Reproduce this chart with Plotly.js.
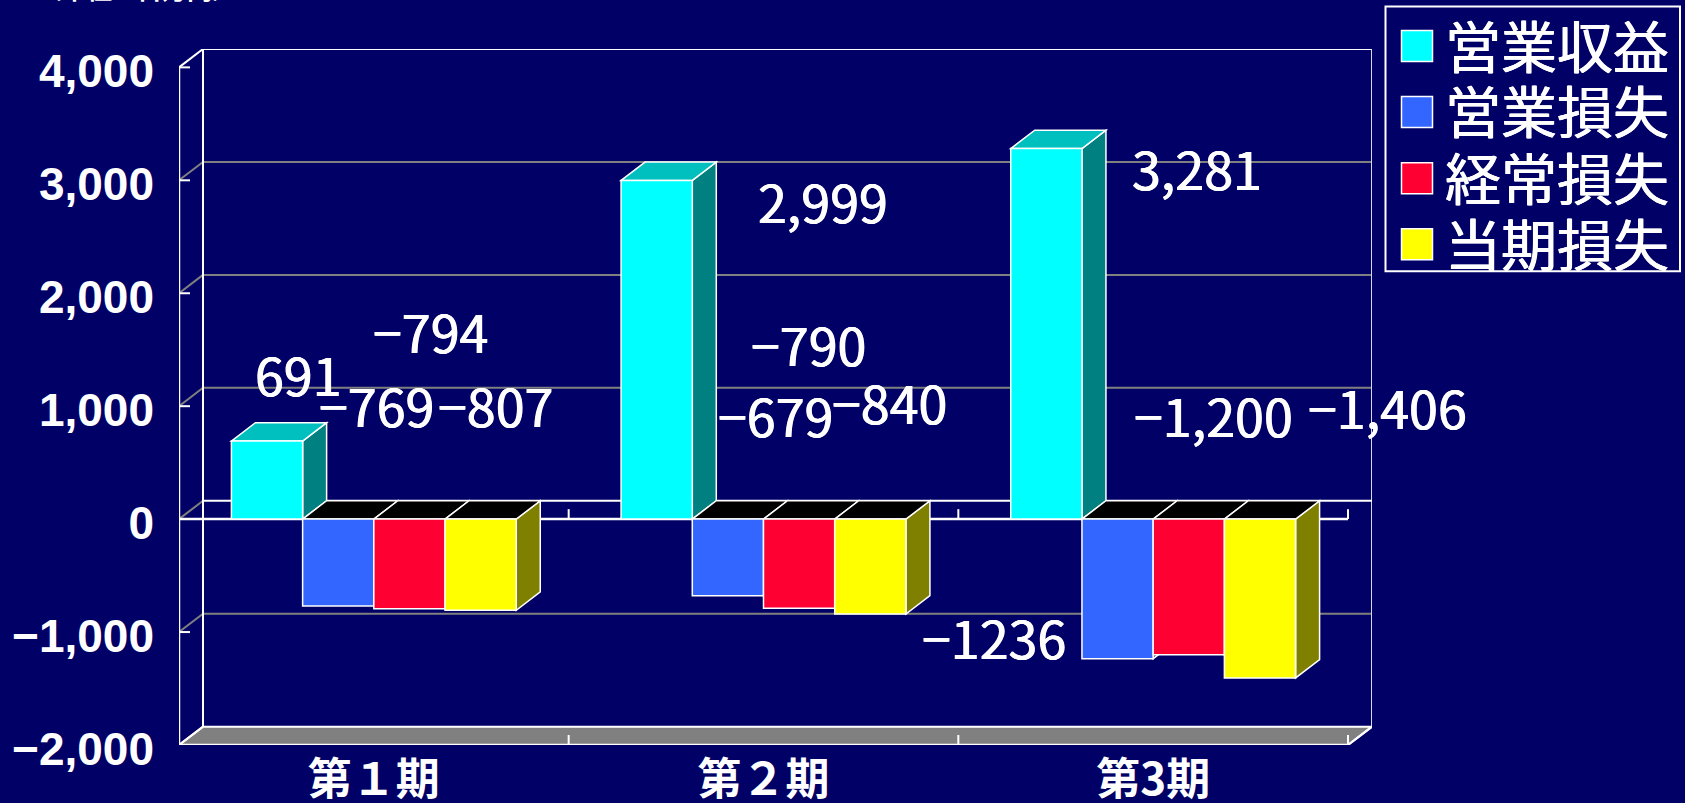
<!DOCTYPE html>
<html lang="ja">
<head>
<meta charset="utf-8">
<script src="https://cdn.plot.ly/plotly-3.0.1.min.js"></script>
<style>html,body{margin:0;padding:0;background:#000066;overflow:hidden}#chart{width:1685px;height:803px}</style>
</head>
<body>
<div id="chart"></div>
<script>
// ---- data ----
const periods = ['第１期', '第２期', '第3期'];
const seriesNames = ['営業収益', '営業損失', '経常損失', '当期損失'];
const operatingRevenue = [691, 2999, 3281];
const operatingLoss = [-769, -679, -1236];
const ordinaryLoss = [-794, -790, -1200];
const netLoss = [-807, -840, -1406];
const yTicks = [-2000, -1000, 0, 1000, 2000, 3000, 4000];
const revenueLabels = ['691', '2,999', '3,281'];
const operatingLossLabels = ['−769', '−679', '−1236'];
const ordinaryLossLabels = ['−794', '−790', '−1,200'];
const netLossLabels = ['−807', '−840', '−1,406'];
const unitNote = '（単位：百万円）';

// ---- styling / layout (pixels on the 1685x803 page) ----
const W = 1685, H = 803;
const NAVY = '#000066', WHITE = '#ffffff', GRAY = '#808080';
const faceColors = ['#00ffff', '#3366ff', '#ff0033', '#ffff00'];
const sideColors = ['#008080', '#1a3380', '#80001a', '#808000'];
const topColors  = ['#00bfbf', '#000000', '#000000', '#000000'];
const FONT = '"Noto Sans CJK JP", "Liberation Sans", sans-serif';
const TICKFONT = '"Liberation Sans", sans-serif';
const plotL = 179, plotR = 1372, plotT = 48.5, plotB = 745.5;
const depthPxX = 24, depthPxY = 18.4;
const pxPerCat = 389.7, pxPer1000 = 113.1;
const depthX = depthPxX / pxPerCat;
const depthY = depthPxY / pxPer1000 * 1000;
const yMin = -2000, yMax = 4000, xMin = -0.5, xMax = 2.5;
const groupWidth = 0.731;
const barW = groupWidth / 4;
const allSeries = [operatingRevenue, operatingLoss, ordinaryLoss, netLoss];
const allLabels = [revenueLabels, operatingLossLabels, ordinaryLossLabels, netLossLabels];

// label centres in page pixels, same order as allLabels
const labelPx = [
  [[298, 373], [823, 200], [1197, 167]],
  [[376, 405], [775, 415], [994, 637]],
  [[430, 330], [809, 343], [1213, 415]],
  [[495, 405], [890, 402], [1387, 407]]
];
// paper coordinates relative to the plot area
const paperX = v => (v - plotL) / (plotR - plotL);
const paperY = v => (plotB - v) / (plotB - plotT);

const shapes = [];
function poly(pts, fill, lineColor, lineWidth) {
  shapes.push({
    type: 'path', xref: 'x', yref: 'y', layer: 'below',
    path: 'M' + pts.map(p => p[0] + ' ' + p[1]).join(' L') + ' Z',
    fillcolor: fill,
    line: {color: lineColor, width: lineWidth}
  });
}
function seg(x0, y0, x1, y1, color, width) {
  shapes.push({type: 'line', xref: 'x', yref: 'y', layer: 'below', x0, y0, x1, y1,
    line: {color, width}});
}
// floor
poly([[xMin, yMin], [xMin + depthX, yMin + depthY], [xMax + depthX, yMin + depthY], [xMax, yMin]], GRAY, WHITE, 2);
// gridlines on back and side wall
yTicks.forEach(t => {
  if (t !== yMin && t !== yMax && t !== 0) {
    seg(xMin + depthX, t + depthY, xMax + depthX, t + depthY, GRAY, 2);
    seg(xMin, t, xMin + depthX, t + depthY, GRAY, 2);
  }
});
seg(xMin, 0, xMin + depthX, depthY, GRAY, 2);
seg(xMin + depthX, yMax + depthY, xMax + depthX, yMax + depthY, WHITE, 2);
seg(xMin, yMax, xMin + depthX, yMax + depthY, WHITE, 2);
seg(xMin, yMin, xMin + depthX, yMin + depthY, WHITE, 2);
seg(xMin + depthX, yMin + depthY, xMin + depthX, yMax + depthY, WHITE, 2);
seg(xMax + depthX, yMin + depthY, xMax + depthX, yMax + depthY, '#d8d8e8', 2);
seg(xMax, yMin, xMax + depthX, yMin + depthY, WHITE, 2);
seg(xMin, yMin, xMin, yMax, WHITE, 2.5);
// y ticks pointing into the plot
const tickDx = 11 / pxPerCat, tickDy = 10 / pxPer1000 * 1000;
yTicks.forEach(t => { if (t !== yMin && t !== 0) seg(xMin, t, xMin + tickDx, t, WHITE, 2); });
// zero plane
seg(xMin + depthX, depthY, xMax + depthX, depthY, WHITE, 2);
seg(xMin, 0, xMax, 0, WHITE, 2.5);
seg(xMin, yMin, xMax, yMin, WHITE, 2.5);
// x ticks on zero plane and floor
[0.5, 1.5, 2.5].forEach(c => {
  seg(c, 0, c, tickDy, WHITE, 2);
  seg(c, yMin, c, yMin + tickDy, WHITE, 2);
});
// bar side and top faces
periods.forEach((p, c) => {
  allSeries.forEach((vals, s) => {
    const v = vals[c];
    const l = c - groupWidth / 2 + s * barW, r = l + barW;
    const t = Math.max(v, 0);
    poly([[r, 0], [r + depthX, depthY], [r + depthX, v + depthY], [r, v]], sideColors[s], WHITE, 1.5);
    poly([[l, t], [l + depthX, t + depthY], [r + depthX, t + depthY], [r, t]], topColors[s], WHITE, 1.5);
  });
});

// legend box and swatches
const legendBox = {l: 1385.5, r: 1680, t: 6, b: 271};
const legendRows = [45.5, 111.5, 178, 244];
shapes.push({type: 'rect', xref: 'paper', yref: 'paper', layer: 'above',
  x0: paperX(legendBox.l), x1: paperX(legendBox.r), y0: paperY(legendBox.b), y1: paperY(legendBox.t),
  fillcolor: NAVY, line: {color: WHITE, width: 2}});
legendRows.forEach((y, i) => {
  shapes.push({type: 'rect', xref: 'paper', yref: 'paper', layer: 'above',
    x0: paperX(1401.5), x1: paperX(1432.5), y0: paperY(y + 15.5), y1: paperY(y - 15.5),
    fillcolor: faceColors[i], line: {color: WHITE, width: 1.5}});
});

const THICK = '0.5px 0 0 #fff, -0.5px 0 0 #fff';
const annotations = [];
allLabels.forEach((row, s) => row.forEach((txt, c) => {
  annotations.push({
    xref: 'paper', yref: 'paper', x: paperX(labelPx[s][c][0]), y: paperY(labelPx[s][c][1]),
    xanchor: 'center', yanchor: 'middle', showarrow: false, text: txt,
    font: {family: FONT, size: 52, color: WHITE, shadow: THICK}
  });
}));
seriesNames.forEach((name, i) => {
  annotations.push({
    xref: 'paper', yref: 'paper', x: paperX(1443), y: paperY(legendRows[i] - 3),
    xanchor: 'left', yanchor: 'middle', showarrow: false, text: name,
    font: {family: FONT, size: 56, color: WHITE, shadow: THICK}
  });
});
annotations.push({
  xref: 'paper', yref: 'paper', x: paperX(36), y: paperY(6),
  xanchor: 'left', yanchor: 'bottom', showarrow: false, text: unitNote, borderpad: 0,
  font: {family: FONT, size: 25, color: WHITE, weight: 700}
});

const traces = allSeries.map((vals, s) => ({
  type: 'bar', x: periods, y: vals, name: seriesNames[s],
  marker: {color: faceColors[s], line: {color: WHITE, width: 1.5}},
  hoverinfo: 'x+y+name'
}));

const layout = {
  width: W, height: H,
  paper_bgcolor: NAVY, plot_bgcolor: 'rgba(0,0,0,0)',
  margin: {l: plotL, r: W - plotR, t: plotT, b: H - plotB, pad: 0},
  barmode: 'group', bargap: 1 - groupWidth, bargroupgap: 0,
  showlegend: false,
  xaxis: {
    type: 'category', range: [xMin, xMax + depthX], fixedrange: true,
    showgrid: false, zeroline: false, showline: false, ticks: '',
    categoryorder: 'array', categoryarray: periods,
    ticklabelstandoff: 5,
    tickfont: {family: FONT, size: 44, color: WHITE, weight: 700}
  },
  yaxis: {
    range: [yMin, yMax + depthY], fixedrange: true,
    tickmode: 'array', tickvals: yTicks, tickformat: ',d',
    showgrid: false, zeroline: false, showline: false, ticks: '',
    ticklabelstandoff: 24, ticklabelshift: 4,
    tickfont: {family: TICKFONT, size: 46, color: WHITE, weight: 700}
  },
  shapes, annotations
};
Plotly.newPlot('chart', traces, layout, {displayModeBar: false, responsive: false});
</script>
</body>
</html>
